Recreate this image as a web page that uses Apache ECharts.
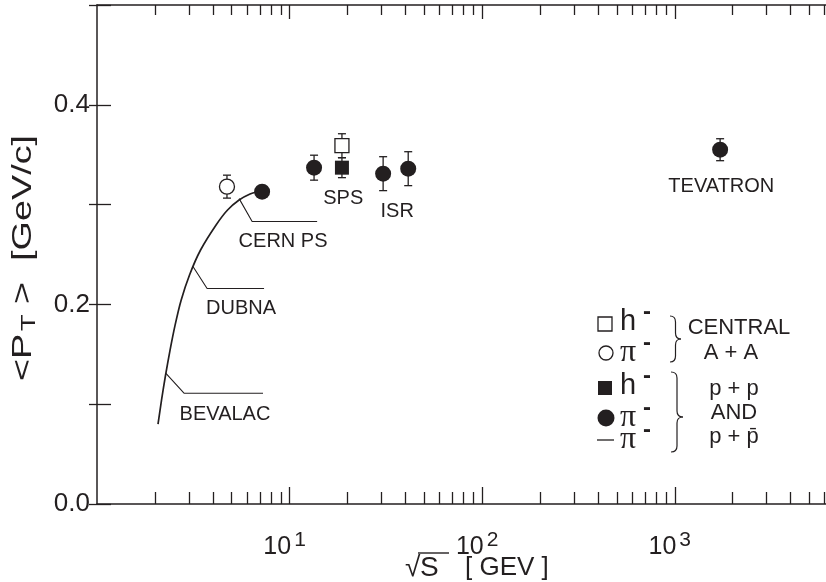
<!DOCTYPE html>
<html>
<head>
<meta charset="utf-8">
<script src="https://cdn.jsdelivr.net/npm/echarts@6/dist/echarts.min.js"></script>
<style>
  html, body { margin: 0; padding: 0; background: #fff; }
  #chart { width: 826px; height: 582px; }
</style>
</head>
<body>
<div id="chart"></div>
<script>
const INK = '#231f20';
const FONT = '"Liberation Sans", Arial, Helvetica, sans-serif';
const SERIF = '"Liberation Serif", "Times New Roman", serif';

// sqrt(s) range [GeV] and <pT> range [GeV/c]
const X_MIN = 1, X_MAX = 6100;
const Y_MIN = 0, Y_MAX = 0.5, Y_STEP = 0.1;
const DECADES = [1, 2, 3];          // labelled powers of ten
const Y_LABELS = [0, 0.2, 0.4];

// [sqrt(s), <pT>, error]
const aaHminus  = [[18.7, 0.359, 0.012]];
const aaPiminus = [[4.73, 0.318, 0.0115]];
const ppHminus  = [[18.7, 0.337, 0.010]];
const ppPiminus = [[7.2, 0.313, 0], [13.4, 0.337, 0.0125], [30.6, 0.331, 0.017],
                   [41.3, 0.336, 0.017], [1720, 0.355, 0.011]];

// low-energy p+p pi- systematics
const curveS  = [2.074, 2.163, 2.269, 2.394, 2.542, 2.732, 3.023, 3.449, 4.152, 4.764, 5.467, 6.233, 6.781];
const curvePt = [0.080, 0.104, 0.129, 0.154, 0.179, 0.204, 0.2295, 0.2545, 0.2796, 0.2946, 0.3046, 0.3106, 0.3126];

// accelerator names and where they sit
const facilityNames = ['SPS', 'ISR', 'TEVATRON', 'CERN PS', 'DUBNA', 'BEVALAC'];
const facilityAt = [[19, 0.306], [36.2, 0.293], [1745, 0.318], [9.25, 0.263], [5.6, 0.196], [4.62, 0.090]];

// leader lines from the curve to the labels
const leaders = [
  [[5.47, 0.306], [6.39, 0.283], [13.9, 0.283]],
  [[3.15, 0.238], [3.73, 0.216], [7.37, 0.216]],
  [[2.28, 0.131], [2.83, 0.111], [7.28, 0.111]]
];

const LOG_MAX = Math.log10(X_MAX);
const minorExp = [];
for (let d = 0; d < 4; d++) {
  for (let m = 2; m <= 9; m++) {
    const e = d + Math.log10(m);
    if (e < LOG_MAX) minorExp.push(e);
  }
}

const lineSt = { color: INK, width: 1.5 };
const tickSt = { color: INK, width: 1.3 };

function tickAxis(position, values, length, extra) {
  return Object.assign({
    type: 'value', position, min: 0, max: LOG_MAX,
    axisLine: { show: false },
    axisTick: { show: true, inside: true, length, customValues: values, lineStyle: tickSt },
    axisLabel: { show: false },
    splitLine: { show: false }
  }, extra || {});
}

function errorBars(data) {
  return {
    type: 'custom', xAxisIndex: 0, yAxisIndex: 0, z: 2, silent: true,
    data: data.filter(d => d[2] > 0).map(d => [d[0], d[1] - d[2], d[1] + d[2]]),
    renderItem(params, api) {
      const lo = api.coord([api.value(0), api.value(1)]);
      const hi = api.coord([api.value(0), api.value(2)]);
      const cap = 4;
      const st = { stroke: INK, lineWidth: 1.3, fill: null };
      return {
        type: 'group', children: [
          { type: 'line', shape: { x1: lo[0], y1: lo[1], x2: hi[0], y2: hi[1] }, style: st },
          { type: 'line', shape: { x1: lo[0] - cap, y1: lo[1], x2: lo[0] + cap, y2: lo[1] }, style: st },
          { type: 'line', shape: { x1: hi[0] - cap, y1: hi[1], x2: hi[0] + cap, y2: hi[1] }, style: st }
        ]
      };
    }
  };
}

function points(data, symbol, size, filled) {
  return {
    type: 'scatter', xAxisIndex: 0, yAxisIndex: 0, z: 3, silent: true,
    symbol, symbolSize: size,
    itemStyle: filled ? { color: INK, opacity: 1 } : { color: '#fff', borderColor: INK, borderWidth: 1.3, opacity: 1 },
    data: data.map(d => [d[0], d[1]])
  };
}

const series = [
  {
    type: 'line', xAxisIndex: 0, yAxisIndex: 0, z: 2, silent: true,
    symbol: 'none', smooth: 0.3,
    lineStyle: { color: INK, width: 1.7 },
    data: curveS.map((s, i) => [s, curvePt[i]])
  },
  ...leaders.map(pts => ({
    type: 'line', xAxisIndex: 0, yAxisIndex: 0, z: 2, silent: true,
    symbol: 'none', lineStyle: { color: INK, width: 1.1 }, data: pts
  })),
  errorBars(aaHminus), errorBars(aaPiminus), errorBars(ppHminus), errorBars(ppPiminus),
  points(aaHminus, 'rect', 14, false),
  points(aaPiminus, 'circle', 15, false),
  points(ppHminus, 'rect', 14, true),
  points(ppPiminus, 'circle', 16, true),
  {
    type: 'scatter', xAxisIndex: 0, yAxisIndex: 0, z: 4, silent: true,
    symbolSize: 1, itemStyle: { color: 'rgba(0,0,0,0)', opacity: 1 },
    label: { show: true, position: 'inside', formatter: '{b}', color: INK, fontSize: 20, fontFamily: FONT },
    data: facilityNames.map((n, i) => ({ name: n, value: facilityAt[i] }))
  }
];

const chart = echarts.init(document.getElementById('chart'), null, { renderer: 'canvas' });

const txt = (x, y, text, size, extra) => ({
  type: 'text', x, y, silent: true,
  style: Object.assign({ text, fill: INK, font: size + 'px ' + FONT, textAlign: 'left', textVerticalAlign: 'middle' }, extra || {})
});
const minus = (x, y) => txt(x, y, '-', 24, { font: 'bold 24px ' + FONT });

// curly brace opening to the left: x0 outer edge, x1 tip, from y0 to y2 with tip at ym
function brace(x0, x1, y0, ym, y2) {
  const xm = (x0 + x1) / 2, r = 6;
  const st = { stroke: INK, lineWidth: 1.2, fill: null };
  const q = (ax, ay, cx, cy, bx, by) => ({ type: 'bezierCurve', silent: true, shape: { x1: ax, y1: ay, cpx1: cx, cpy1: cy, x2: bx, y2: by }, style: st });
  const l = (ax, ay, bx, by) => ({ type: 'line', silent: true, shape: { x1: ax, y1: ay, x2: bx, y2: by }, style: st });
  return [
    q(x0, y0, xm, y0, xm, y0 + r), l(xm, y0 + r, xm, ym - r), q(xm, ym - r, xm, ym, x1, ym),
    q(x1, ym, xm, ym, xm, ym + r), l(xm, ym + r, xm, y2 - r), q(xm, y2 - r, xm, y2, x0, y2)
  ];
}

chart.setOption({
  animation: false,
  backgroundColor: '#fff',
  grid: { left: 97, right: 0, top: 5, bottom: 78, containLabel: false },
  xAxis: [
    {
      type: 'log', logBase: 10, min: X_MIN, max: X_MAX, position: 'bottom',
      axisLine: { show: true, lineStyle: lineSt },
      axisTick: { show: false }, axisLabel: { show: false }, splitLine: { show: false }
    },
    tickAxis('bottom', DECADES, 17, {
      axisLabel: {
        show: true, customValues: DECADES, margin: 26,
        formatter: v => '{b|10}{e|' + v + '}',
        rich: {
          b: { fontSize: 25, fontFamily: FONT, color: INK },
          e: { fontSize: 21, fontFamily: FONT, color: INK, padding: [0, 10, 14, 3] }
        }
      }
    }),
    tickAxis('bottom', minorExp, 12),
    tickAxis('top', DECADES, 14, { axisLine: { show: true, lineStyle: lineSt } }),
    tickAxis('top', minorExp, 10)
  ],
  yAxis: [
    {
      type: 'value', position: 'left', min: Y_MIN, max: Y_MAX, interval: Y_STEP,
      axisLine: { show: true, lineStyle: lineSt },
      axisTick: { show: true, inside: true, length: 14, lineStyle: tickSt },
      axisLabel: {
        color: INK, fontSize: 26, fontFamily: FONT, margin: 7,
        formatter: v => Y_LABELS.some(l => Math.abs(l - v) < 1e-9) ? v.toFixed(1) : ''
      },
      splitLine: { show: false }
    },
    {
      type: 'value', position: 'right', min: Y_MIN, max: Y_MAX, interval: Y_STEP,
      axisLine: { show: false },
      axisTick: { show: true, inside: true, length: 8, lineStyle: tickSt },
      axisLabel: { show: false }, splitLine: { show: false }
    }
  ],
  series,
  graphic: [
    // y-axis title, set in a wide face along the axis
    {
      type: 'text', silent: true, x: 23, y: 258, rotation: Math.PI / 2, scaleX: 1.35,
      style: {
        text: '<P{s|T} >  [GeV/c]', fill: INK, font: '28px ' + FONT,
        textAlign: 'center', textVerticalAlign: 'middle',
        rich: { s: { fontSize: 20, fontFamily: FONT, fill: INK, padding: [12, 0, 0, 2] } }
      }
    },

    // x-axis title: sqrt(s) [GEV]
    txt(405, 568, '\u221A', 28),
    txt(420, 568, 'S', 28, { font: '28px ' + FONT }),
    { type: 'line', silent: true, shape: { x1: 418, y1: 553, x2: 449, y2: 553 }, style: { stroke: INK, lineWidth: 1.4 } },
    txt(465, 568, '[ GEV ]', 26),

    // legend symbols
    { type: 'rect', silent: true, shape: { x: 598, y: 317, width: 14, height: 14 }, style: { fill: '#fff', stroke: INK, lineWidth: 1.3 } },
    { type: 'circle', silent: true, shape: { cx: 606, cy: 353, r: 7 }, style: { fill: '#fff', stroke: INK, lineWidth: 1.3 } },
    { type: 'rect', silent: true, shape: { x: 598, y: 381, width: 14, height: 14 }, style: { fill: INK } },
    { type: 'circle', silent: true, shape: { cx: 606, cy: 418, r: 8.5 }, style: { fill: INK } },
    { type: 'line', silent: true, shape: { x1: 597, y1: 440, x2: 614, y2: 440 }, style: { stroke: INK, lineWidth: 1.3 } },

    // legend particle names
    txt(620, 322, 'h', 29), minus(643, 312),
    txt(620, 353, '\u03C0', 32, { font: '32px ' + SERIF }), minus(643, 343),
    txt(620, 386, 'h', 29), minus(643, 376),
    txt(620, 418, '\u03C0', 32, { font: '32px ' + SERIF }), minus(643, 408),
    txt(620, 440, '\u03C0', 32, { font: '32px ' + SERIF }), minus(643, 430),

    // braces
    ...brace(670, 681, 316, 339, 362),
    ...brace(671, 683, 372, 417, 452),

    // system descriptions
    txt(739, 328, 'CENTRAL', 22, { textAlign: 'center' }),
    txt(731, 353, 'A + A', 22, { textAlign: 'center' }),
    txt(734, 389, 'p + p', 22, { textAlign: 'center' }),
    txt(734, 413, 'AND', 22, { textAlign: 'center' }),
    txt(734, 437, 'p + p\u0304', 22, { textAlign: 'center' })
  ]
});
</script>
</body>
</html>
